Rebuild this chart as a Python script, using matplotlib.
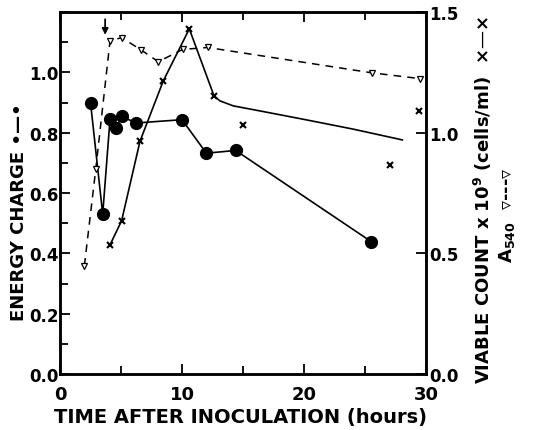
import matplotlib.pyplot as plt
from matplotlib.ticker import MultipleLocator

# Energy charge (left axis)
ec_time = [2.5, 3.5, 4.1, 4.6, 5.05, 6.2, 10.0, 12.0, 14.4, 25.5]
ec_value = [0.90, 0.53, 0.845, 0.815, 0.855, 0.832, 0.843, 0.732, 0.741, 0.439]

# Viable count x 10^9 cells/ml (right axis)
vc_time = [4.1, 5.05, 6.56, 8.47, 10.6, 12.62]
vc_value = [0.535, 0.635, 0.965, 1.215, 1.43, 1.153]
# smooth fitted curve after the peak
vc_fit_time = [12.62, 13.1, 14.2, 16.4, 20.0, 24.0, 28.06]
vc_fit_value = [1.153, 1.132, 1.111, 1.09, 1.055, 1.015, 0.97]
# unconnected counts
vc_extra_time = [15.0, 27.05, 29.45]
vc_extra_value = [1.03, 0.864, 1.09]

# A540 (right axis scale)
a_time = [2.0, 2.93, 4.1, 5.05, 6.64, 8.06, 10.06, 12.1, 25.55, 29.5]
a_value = [0.449, 0.848, 1.38, 1.394, 1.343, 1.294, 1.345, 1.353, 1.248, 1.224]

plt.rcParams['font.family'] = ['DejaVu Sans']
plt.rcParams['font.weight'] = 'bold'
plt.rcParams['axes.labelweight'] = 'bold'

fig = plt.figure(figsize=(5.33, 4.31), dpi=100)
ax = fig.add_axes([60/533, 56/431, 366/533, 362/431])
ax2 = ax.twinx()

ax.plot(ec_time, ec_value, '-', color='black', lw=1.2, marker='o', ms=8.5,
        mfc='black', mec='black', zorder=3)

ax2.plot(vc_time, vc_value, '-', color='black', lw=1.2, marker='x', ms=4, mew=1.5)
ax2.plot(vc_fit_time, vc_fit_value, '-', color='black', lw=1.2)
ax2.plot(vc_extra_time, vc_extra_value, 'x', color='black', ms=4, mew=1.5)
ax2.plot(a_time, a_value, '--', color='black', lw=1.1, dashes=(5, 4),
         marker='v', ms=5, mfc='white', mec='black', mew=0.9)

# arrow marking the time of addition
ax.annotate('', xy=(3.7, 1.115), xytext=(3.7, 1.185),
            arrowprops=dict(arrowstyle='-|>', color='black', lw=1.3, mutation_scale=9))

ax.set_xlim(0, 30)
ax.set_ylim(0, 1.2)
ax2.set_ylim(0, 1.5)

ax.xaxis.set_major_locator(MultipleLocator(10))
ax.xaxis.set_minor_locator(MultipleLocator(5))
ax.yaxis.set_minor_locator(MultipleLocator(0.1))

ax.set_yticks([0, 0.2, 0.4, 0.6, 0.8, 1.0])
ax.set_yticklabels(['0.0', '0.2', '0.4', '0.6', '0.8', '1.0'])
ax2.set_yticks([0, 0.5, 1.0, 1.5])
ax2.set_yticklabels(['0.0', '0.5', '1.0', '1.5'])

ax.tick_params(axis='both', which='both', direction='in', top=True, labelsize=12, width=1.3)
ax.tick_params(axis='x', which='major', length=7, pad=8, labelsize=13)
ax.tick_params(axis='y', which='major', length=7, pad=1)
ax.tick_params(axis='both', which='minor', length=6)
ax2.tick_params(axis='y', direction='in', length=7, width=1.3, labelsize=12, pad=2)

for sp in ax.spines.values():
    sp.set_linewidth(1.8)
for sp in ax2.spines.values():
    sp.set_linewidth(1.8)

fig.text(240/533, 1 - 418/431, 'TIME AFTER INOCULATION (hours)', fontsize=14,
         ha='center', va='center')
fig.text(19/533, 1 - 212/431, 'ENERGY CHARGE \u2022\u2014\u2022', rotation=90, fontsize=13,
         ha='center', va='center')
fig.text(483/533, 1 - 200/431, 'VIABLE COUNT x 10$^{9}$ (cells/ml)  \u00d7\u2014\u00d7',
         rotation=90, fontsize=13, ha='center', va='center')
fig.text(507/533, 1 - 215/431, 'A$_{540}$  \u25BF---\u25BF', rotation=90, fontsize=13,
         ha='center', va='center')

fig.savefig('out.png', dpi=100)
